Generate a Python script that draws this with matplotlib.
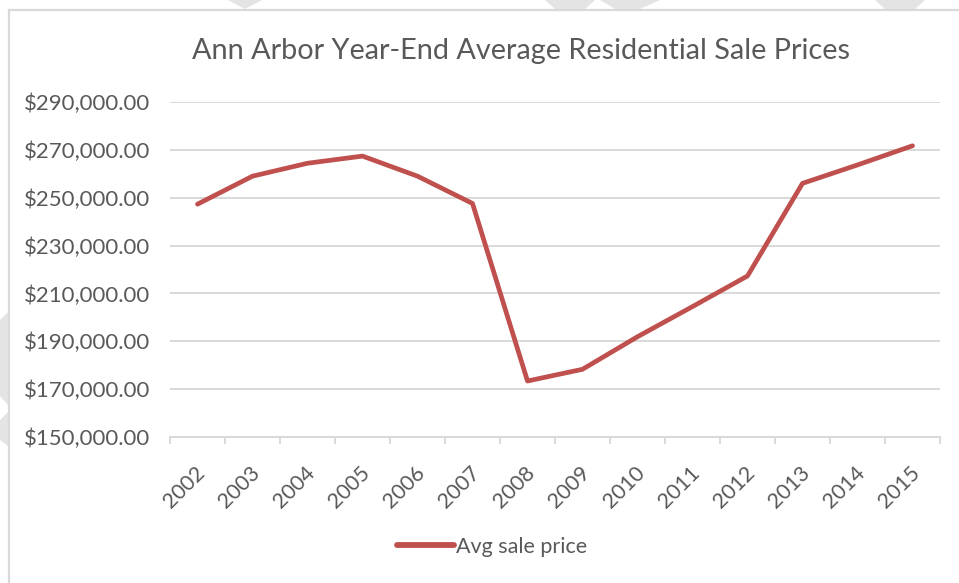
import matplotlib
matplotlib.use("Agg")
import matplotlib.pyplot as plt
from matplotlib.patches import Polygon, Rectangle
from matplotlib.ticker import FuncFormatter, FixedLocator
import matplotlib.transforms as mtransforms

years = ["2002", "2003", "2004", "2005", "2006", "2007", "2008",
         "2009", "2010", "2011", "2012", "2013", "2014", "2015"]
avg_price = [247300, 259000, 264400, 267400, 259000, 247600, 173400,
             178300, 191900, 204500, 217300, 256000, 263700, 271700]
y_ticks = [150000, 170000, 190000, 210000, 230000, 250000, 270000, 290000]
series_name = "Avg sale price"
title = "Ann Arbor Year-End Average Residential Sale Prices"

plt.rcParams['font.family'] = ['Lato', 'DejaVu Sans']

W, H = 959, 583
fig = plt.figure(figsize=(W / 100, H / 100), dpi=100)
fig.patch.set_facecolor("white")

# faint watermark shapes outside the chart border
wm = "#e4e4e4"
def fpoly(pts):
    fig.patches.append(Polygon([(x / W, 1 - y / H) for x, y in pts],
                               closed=True, transform=fig.transFigure,
                               facecolor=wm, edgecolor="none", zorder=0))
fpoly([(228, 0), (262, 0), (245, 9)])
fpoly([(545, 0), (595, 0), (585, 9), (555, 9)])
fpoly([(600, 0), (660, 0), (640, 9), (615, 9)])
fpoly([(875, 0), (925, 0), (915, 9), (885, 9)])
fpoly([(0, 320), (8, 312), (8, 405), (0, 396)])
fpoly([(0, 420), (8, 412), (8, 446), (0, 440)])

# chart border
fig.patches.append(Rectangle((9 / W, -0.1), 1.1, 1 - 10 / H + 0.1,
                             transform=fig.transFigure, facecolor="white",
                             edgecolor="#d9d9d9", linewidth=1.6, zorder=1))

left, right, top, bottom = 170, 940, 102, 437
ax = fig.add_axes([left / W, 1 - bottom / H, (right - left) / W, (bottom - top) / H])
ax.set_zorder(2)
ax.patch.set_alpha(0)

x = list(range(len(years)))
line, = ax.plot(x, avg_price, color="#c0504d", linewidth=3.4,
                solid_joinstyle="round", solid_capstyle="round",
                label=series_name, zorder=3)

ax.set_xlim(-0.5, len(years) - 0.5)
ax.set_ylim(y_ticks[0], y_ticks[-1])
ax.yaxis.set_major_locator(FixedLocator(y_ticks))
ax.yaxis.set_major_formatter(FuncFormatter(lambda v, p: f"${v:,.2f}"))
ax.grid(axis="y", color="#d9d9d9", linewidth=1.4, zorder=0)
ax.set_axisbelow(True)

for s in ["top", "right", "left"]:
    ax.spines[s].set_visible(False)
ax.spines["bottom"].set_color("#d9d9d9")
ax.spines["bottom"].set_linewidth(1.4)

ax.set_xticks(x)
ax.set_xticklabels(years)
ax.xaxis.set_minor_locator(FixedLocator([i - 0.5 for i in range(len(years) + 1)]))
ax.tick_params(axis="x", which="major", length=0, pad=23.5, labelsize=15.5,
               labelcolor="#595959")
ax.tick_params(axis="x", which="minor", length=5, width=1.4, color="#d9d9d9")
ax.tick_params(axis="y", length=0, pad=14, labelsize=16, labelcolor="#595959")

offset = mtransforms.ScaledTranslation(4 / 100, 0, fig.dpi_scale_trans)
for lab in ax.get_xticklabels():
    lab.set_rotation(45)
    lab.set_rotation_mode("anchor")
    lab.set_ha("right")
    lab.set_va("center")
    lab.set_transform(lab.get_transform() + offset)

fig.text(521 / W, 1 - 51 / H, title, ha="center", va="center",
         fontsize=20.8, color="#595959", zorder=3)

leg = fig.legend(handles=[line], loc="center", bbox_to_anchor=(492 / W, 1 - 547 / H),
                 frameon=False, fontsize=15.5, handlelength=2.65, handletextpad=0.12,
                 borderpad=0)
for t in leg.get_texts():
    t.set_color("#595959")
leg.get_lines()[0].set_linewidth(4.2)

fig.savefig("out.png", dpi=100, facecolor="white")
